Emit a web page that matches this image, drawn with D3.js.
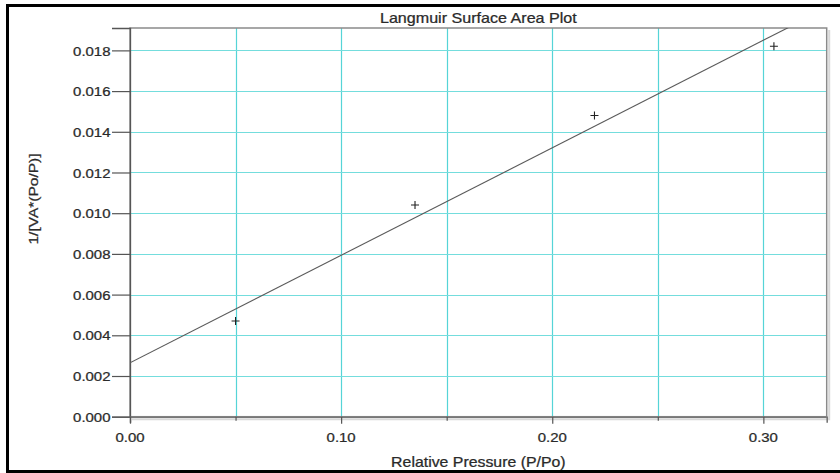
<!DOCTYPE html>
<html>
<head>
<meta charset="utf-8">
<script src="https://cdn.jsdelivr.net/npm/d3@7"></script>
<style>
  html, body { margin: 0; padding: 0; background: #fff; overflow: hidden; }
  svg { display: block; }
  text { font-family: "Liberation Sans", Arial, sans-serif; fill: #2a2a2a; stroke: #2a2a2a; stroke-width: 0.25; }
</style>
</head>
<body>
<svg id="chart" width="840" height="473"></svg>
<script>
// Langmuir surface area data: relative pressure vs 1/[VA*(Po/P)]
const relativePressure = [0.050, 0.135, 0.220, 0.305];
const langmuirValues = [0.0047, 0.0104, 0.0148, 0.0182];

const xTickValues = [0.00, 0.10, 0.20, 0.30];
const xGridValues = [0.05, 0.10, 0.15, 0.20, 0.25, 0.30];
const yTickValues = [0.000, 0.002, 0.004, 0.006, 0.008, 0.010, 0.012, 0.014, 0.016, 0.018];

const titleText = "Langmuir Surface Area Plot";
const xTitle = "Relative Pressure (P/Po)";
const yTitle = "1/[VA*(Po/P)]";

const svg = d3.select("#chart");
const W = 840, H = 473;
const plot = { left: 130, right: 826.7, top: 28, bottom: 416.7 };

const x = d3.scaleLinear().domain([0, 0.33]).range([plot.left, plot.right]);
const y = d3.scaleLinear().domain([0, 0.0191]).range([plot.bottom, plot.top]);

// Horizontally stretched text helper
const STRETCH = 1.15;
function stretchedText(sel, tx, ty, str, size, anchor, rotate) {
  const g = sel.append("g")
    .attr("transform", `translate(${tx},${ty})` + (rotate ? ` rotate(${rotate})` : "") + ` scale(${STRETCH},1)`);
  g.append("text")
    .attr("text-anchor", anchor)
    .attr("font-size", size)
    .text(str);
  return g;
}

// Outer frame (top, left and bottom edges)
svg.append("path")
  .attr("d", `M${W + 5},5.5 H7.5 V471.5 H${W + 5}`)
  .attr("fill", "none").attr("stroke", "#000").attr("stroke-width", 3);

// Clip for the fitted line
svg.append("clipPath").attr("id", "plotClip")
  .append("rect").attr("x", plot.left).attr("y", plot.top)
  .attr("width", plot.right - plot.left).attr("height", plot.bottom - plot.top);

// Grid lines
const grid = svg.append("g");
grid.selectAll("line.v").data(xGridValues).join("line")
  .attr("x1", d => Math.round(x(d)) + 0.5).attr("x2", d => Math.round(x(d)) + 0.5)
  .attr("y1", plot.top).attr("y2", plot.bottom)
  .attr("stroke", "#55d4d7").attr("stroke-width", 1.2);
grid.selectAll("line.h").data(yTickValues.slice(1)).join("line")
  .attr("x1", plot.left).attr("x2", plot.right)
  .attr("y1", d => Math.round(y(d)) + 0.5).attr("y2", d => Math.round(y(d)) + 0.5)
  .attr("stroke", "#74dddd").attr("stroke-width", 1.2);

// Plot frame with light shadow
svg.append("path")
  .attr("d", `M${plot.left + 2},${plot.bottom + 2.5} H${plot.right + 2.5} V${plot.top + 2}`)
  .attr("fill", "none").attr("stroke", "#d8d8d8").attr("stroke-width", 2);
svg.append("rect")
  .attr("x", plot.left).attr("y", plot.top)
  .attr("width", plot.right - plot.left).attr("height", plot.bottom - plot.top)
  .attr("fill", "none").attr("stroke", "#8a8a8a").attr("stroke-width", 1.5);

// Axes
const yAxis = d3.axisLeft(y).tickValues(yTickValues).tickSize(18).tickFormat("");
const yAxisG = svg.append("g").attr("transform", `translate(${plot.left},0)`).call(yAxis);
yAxisG.select(".domain").attr("stroke", "#555").attr("stroke-width", 1.3);
yAxisG.selectAll(".tick line").attr("stroke", "#555").attr("stroke-width", 1.2);
yAxisG.selectAll(".tick").each(function(d) {
  stretchedText(d3.select(this), -19.5, 4.7, d3.format(".3f")(d), 13, "end");
});

const xAxis = d3.axisBottom(x).tickValues(xGridValues.concat([0])).tickSize(6).tickFormat("");
const xAxisG = svg.append("g").attr("transform", `translate(0,${plot.bottom})`).call(xAxis);
xAxisG.select(".domain").attr("stroke", "#777").attr("stroke-width", 1.6);
xAxisG.selectAll(".tick line").attr("stroke", "#555").attr("stroke-width", 1.2)
  .attr("y2", d => xTickValues.some(v => Math.abs(v - d) < 1e-9) ? 7 : 4);
const xLabels = svg.append("g");
xTickValues.forEach(v => {
  stretchedText(xLabels, x(v), plot.bottom + 25.5, d3.format(".2f")(v), 13, "middle");
});

// Least-squares fit through the points
const mx = d3.mean(relativePressure), my = d3.mean(langmuirValues);
const sxy = d3.sum(relativePressure, (v, i) => (v - mx) * (langmuirValues[i] - my));
const sxx = d3.sum(relativePressure, v => (v - mx) ** 2);
const slope = sxy / sxx, intercept = my - slope * mx;
const xEnd = x.domain()[1];
svg.append("line")
  .attr("clip-path", "url(#plotClip)")
  .attr("x1", x(0)).attr("y1", y(intercept))
  .attr("x2", x(xEnd)).attr("y2", y(intercept + slope * xEnd))
  .attr("stroke", "#5a5a5a").attr("stroke-width", 1.1);

// Data markers (+)
const pts = svg.append("g");
relativePressure.forEach((v, i) => {
  const cx = x(v), cy = y(langmuirValues[i]);
  pts.append("path")
    .attr("d", `M${cx - 4},${cy} H${cx + 4} M${cx},${cy - 4} V${cy + 4}`)
    .attr("stroke", "#222").attr("stroke-width", 1.1);
});

// Titles
stretchedText(svg, (plot.left + plot.right) / 2, 23, titleText, 14, "middle");
stretchedText(svg, (plot.left + plot.right) / 2, 467, xTitle, 13.8, "middle");
stretchedText(svg, 38, 199, yTitle, 13.5, "middle", -90);
</script>
</body>
</html>
